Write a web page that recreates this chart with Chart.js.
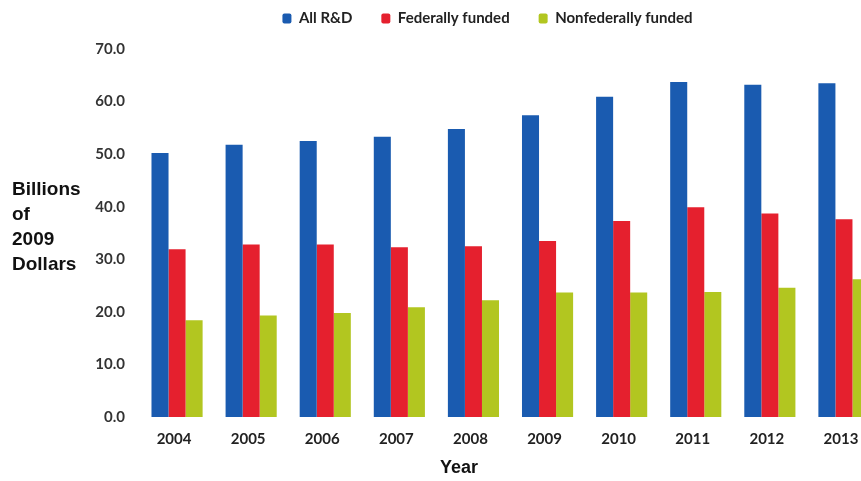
<!DOCTYPE html>
<html>
<head>
<meta charset="utf-8">
<title>R&amp;D funding, 2004-2013</title>
<script src="https://cdn.jsdelivr.net/npm/chart.js@4.4.1/dist/chart.umd.min.js"></script>
<style>
  html, body { margin: 0; padding: 0; overflow: hidden; background: #fff; }
  canvas { display: block; }
</style>
</head>
<body>
<canvas id="rdChart" width="890" height="481"></canvas>
<script>
// Billions of 2009 dollars
const years = ['2004', '2005', '2006', '2007', '2008', '2009', '2010', '2011', '2012', '2013'];
const allRD = [50.2, 51.8, 52.5, 53.3, 54.8, 57.4, 60.9, 63.7, 63.2, 63.5];
const federal = [31.9, 32.8, 32.8, 32.3, 32.5, 33.5, 37.3, 39.9, 38.7, 37.6];
const nonfederal = [18.4, 19.3, 19.8, 20.9, 22.2, 23.7, 23.7, 23.8, 24.6, 26.2];
const yTitleLines = ['Billions', 'of', '2009', 'Dollars'];
const xTitle = 'Year';

// horizontal y-axis caption and the x caption under the year labels
const captions = {
    id: 'captions',
    afterDraw(chart) {
        const ctx = chart.ctx;
        ctx.save();
        ctx.fillStyle = '#111';
        ctx.textBaseline = 'alphabetic';
        ctx.font = 'bold 19px "Liberation Sans", Arial, sans-serif';
        ctx.textAlign = 'left';
        yTitleLines.forEach((line, i) => {
            ctx.fillText(line, 12, 195 + i * 25);
        });
        ctx.font = 'bold 18px "Liberation Sans", Arial, sans-serif';
        ctx.textAlign = 'center';
        ctx.fillText(xTitle, 459, 473);
        ctx.restore();
    }
};

const ctx = document.getElementById('rdChart').getContext('2d');
const rdChart = new Chart(ctx, {
    type: 'bar',
    data: {
        labels: years,
        datasets: [
            {
                label: 'All R&D',
                data: allRD,
                backgroundColor: '#1a5bb0'
            },
            {
                label: 'Federally funded',
                data: federal,
                backgroundColor: '#e5202e'
            },
            {
                label: 'Nonfederally funded',
                data: nonfederal,
                backgroundColor: '#b2c620'
            }
        ]
    },
    options: {
        responsive: false,
        animation: false,
        categoryPercentage: 0.69,
        barPercentage: 1.0,
        layout: {
            // legend padding doubles as the gap between its items, so pull it up a bit
            padding: { top: -18, left: 94, right: 9, bottom: 0 }
        },
        plugins: {
            tooltip: { enabled: false },
            legend: {
                position: 'top',
                labels: {
                    boxWidth: 9,
                    boxHeight: 10,
                    padding: 29,
                    color: '#222',
                    useBorderRadius: true,
                    borderRadius: 2,
                    font: { family: 'Lato, sans-serif', size: 15, weight: 'bold' }
                }
            },
            // no title text, only a gap between the legend and the plot
            title: {
                display: true,
                text: [],
                weight: 500,
                padding: { top: 0, bottom: 13 }
            }
        },
        scales: {
            x: {
                grid: { display: false, drawTicks: false },
                border: { display: false },
                ticks: {
                    color: '#222',
                    padding: 13,
                    labelOffset: -3,
                    font: { family: 'Lato, sans-serif', size: 15, weight: 'bold' }
                },
                afterFit(scale) { scale.height = 64; }
            },
            y: {
                min: 0,
                max: 70,
                grid: { display: false, drawTicks: false },
                border: { display: false },
                ticks: {
                    stepSize: 10,
                    color: '#333',
                    padding: 15,
                    font: { family: 'Lato, sans-serif', size: 15, weight: 'bold' },
                    callback: (v) => v.toFixed(1)
                },
                afterFit(scale) { scale.width = 46; }
            }
        }
    },
    plugins: [captions]
});
</script>
</body>
</html>
